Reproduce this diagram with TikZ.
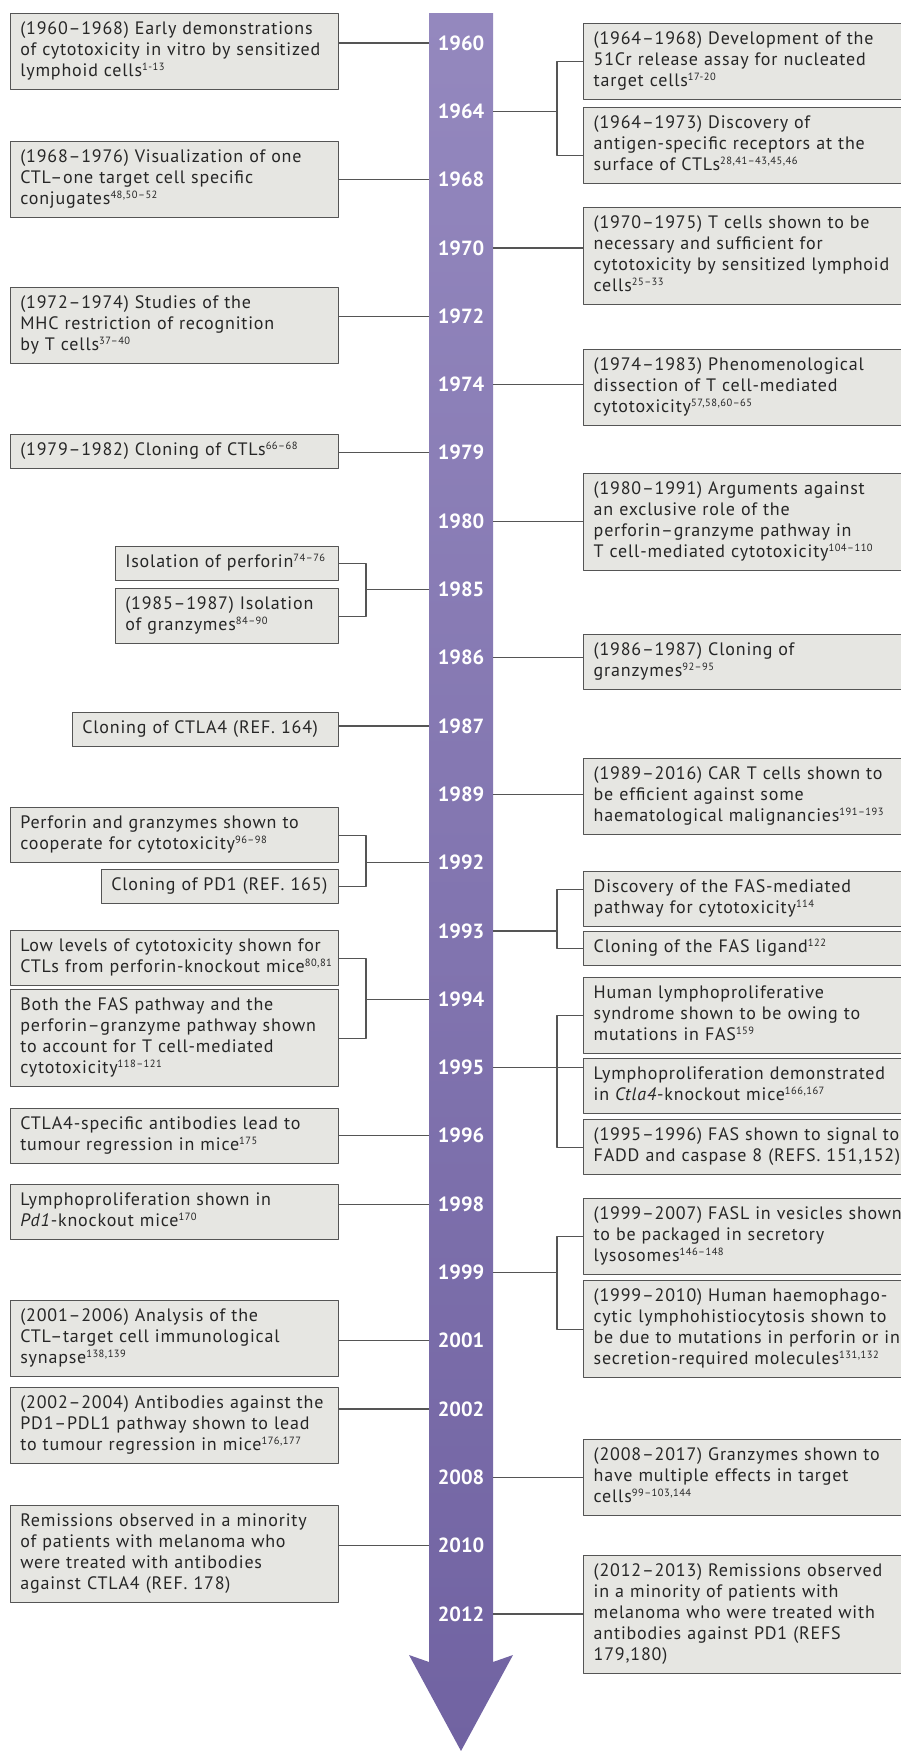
\documentclass[tikz,border=0pt]{standalone}
\usepackage{fontspec}
\setmainfont{PT Sans}[LetterSpace=4.5]
\newfontfamily\yearfont{PT Sans}
\usetikzlibrary{calc}

\definecolor{barTop}{RGB}{148,136,190}
\definecolor{barBot}{RGB}{113,99,162}
\definecolor{boxFill}{RGB}{230,230,226}
\definecolor{boxLine}{RGB}{85,85,85}

\newcommand{\refnum}[1]{\textsuperscript{\fontsize{10.5}{10}\selectfont #1}}

\begin{document}
\begin{tikzpicture}[
        x = 1pt, y = -1pt,
        line join=round,
        box/.style = {draw=boxLine, line width=1.4pt, fill=boxFill, align=left,
                      inner xsep=10pt, inner ysep=6.5pt, text=black!85,
                      font=\fontsize{18}{21}\selectfont,
                      execute at begin node={\strut\rightskip=0pt plus 1fil minus 30pt},
                      execute at end node=\strut},
        lbox/.style = {box, anchor=north east, text width=#1},
        lbox/.default = 308pt,
        rbox/.style = {box, anchor=north west, text width=320pt},
        yr/.style = {text=white, font=\yearfont\bfseries\fontsize{20.5}{20}\selectfont,
                     minimum width=64pt, inner xsep=0pt},
        link/.style = {draw=boxLine, line width=1.2pt}
    ]

    \useasboundingbox (0,0) rectangle (901,1751);

    % the time arrow
    \shade[top color=barTop, bottom color=barBot]
        (429,13) -- (493,13) -- (493,1662) -- (513,1655) -- (461,1751)
        -- (409,1655) -- (429,1662) -- cycle;

    \foreach \yr [count=\i from 0] in {1960,1964,1968,1970,1972,1974,1979,1980,
            1985,1986,1987,1989,1992,1993,1994,1995,1996,1998,1999,2001,2002,
            2008,2010,2012} {
        \node[yr] (y\yr) at (461, 43+68.3*\i) {\yr};
    }

    \coordinate (kL) at (366,0);
    \coordinate (kR) at (557,0);

    % left column
    \node[lbox] (L1) at (339,13) {(1960--1968) Early demonstrations\\ of cytotoxicity in vitro by sensitized\\ lymphoid cells\refnum{1-13}};
    \node[lbox] (L2) at (339,141) {(1968--1976) Visualization of one\\ CTL--one target cell specific\\ conjugates\refnum{48,50--52}};
    \node[lbox] (L3) at (339,287) {(1972--1974) Studies of the\\ MHC restriction of recognition\\ by T cells\refnum{37--40}};
    \node[lbox] (L4) at (339,434) {(1979--1982) Cloning of CTLs\refnum{66--68}};
    \node[lbox=203pt] (L5) at (339,546) {Isolation of perforin\refnum{74--76}};
    \node[lbox=203pt] (L6) at (339,588) {(1985--1987) Isolation\\ of granzymes\refnum{84--90}};
    \node[lbox=246pt] (L7) at (339,712) {Cloning of CTLA4 (REF. 164)};
    \node[lbox] (L8) at (339,807) {Perforin and granzymes shown to\\ cooperate for cytotoxicity\refnum{96--98}};
    \node[lbox=217pt] (L9) at (339,869) {Cloning of PD1 (REF. 165)};
    \node[lbox] (L10) at (339,930) {Low levels of cytotoxicity shown for\\ CTLs from perforin-knockout mice\refnum{80,81}};
    \node[lbox] (L11) at (339,989) {Both the FAS pathway and the\\ perforin--granzyme pathway shown\\ to account for T cell-mediated\\ cytotoxicity\refnum{118--121}};
    \node[lbox] (L12) at (339,1108) {CTLA4-specific antibodies lead to\\ tumour regression in mice\refnum{175}};
    \node[lbox] (L13) at (339,1184) {Lymphoproliferation shown in\\ \textit{Pd1}-knockout mice\refnum{170}};
    \node[lbox] (L14) at (339,1300) {(2001--2006) Analysis of the\\ CTL--target cell immunological\\ synapse\refnum{138,139}};
    \node[lbox] (L15) at (339,1387) {(2002--2004) Antibodies against the\\ PD1--PDL1 pathway shown to lead\\ to tumour regression in mice\refnum{176,177}};
    \node[lbox] (L16) at (339,1505) {Remissions observed in a minority\\ of patients with melanoma who\\ were treated with antibodies\\ against CTLA4 (REF. 178)};

    % right column
    \node[rbox] (R1) at (583,23) {(1964--1968) Development of the\\ 51Cr release assay for nucleated\\ target cells\refnum{17-20}};
    \node[rbox] (R2) at (583,107) {(1964--1973) Discovery of\\ antigen-specific receptors at the\\ surface of CTLs\refnum{28,41--43,45,46}};
    \node[rbox] (R3) at (583,207) {(1970--1975) T cells shown to be\\ necessary and sufficient for\\ cytotoxicity by sensitized lymphoid\\ cells\refnum{25--33}};
    \node[rbox] (R4) at (583,349) {(1974--1983) Phenomenological\\ dissection of T cell-mediated\\ cytotoxicity\refnum{57,58,60--65}};
    \node[rbox] (R5) at (583,473) {(1980--1991) Arguments against\\ an exclusive role of the\\ perforin--granzyme pathway in\\ T cell-mediated cytotoxicity\refnum{104--110}};
    \node[rbox] (R6) at (583,634) {(1986--1987) Cloning of\\ granzymes\refnum{92--95}};
    \node[rbox] (R7) at (583,758) {(1989--2016) CAR T cells shown to\\ be efficient against some\\ haematological malignancies\refnum{191--193}};
    \node[rbox] (R8) at (583,871) {Discovery of the FAS-mediated\\ pathway for cytotoxicity\refnum{114}};
    \node[rbox] (R9) at (583,931) {Cloning of the FAS ligand\refnum{122}};
    \node[rbox] (R10) at (583,977) {Human lymphoproliferative\\ syndrome shown to be owing to\\ mutations in FAS\refnum{159}};
    \node[rbox] (R11) at (583,1058) {Lymphoproliferation demonstrated\\ in \textit{Ctla4}-knockout mice\refnum{166,167}};
    \node[rbox] (R12) at (583,1119) {(1995--1996) FAS shown to signal to\\ FADD and caspase 8 (REFS. 151,152)};
    \node[rbox] (R13) at (583,1198) {(1999--2007) FASL in vesicles shown\\ to be packaged in secretory\\ lysosomes\refnum{146--148}};
    \node[rbox] (R14) at (583,1280) {(1999--2010) Human haemophago-\\ cytic lymphohistiocytosis shown to\\ be due to mutations in perforin or in\\ secretion-required molecules\refnum{131,132}};
    \node[rbox] (R15) at (583,1439) {(2008--2017) Granzymes shown to\\ have multiple effects in target\\ cells\refnum{99--103,144}};
    \node[rbox] (R16) at (583,1555) {(2012--2013) Remissions observed\\ in a minority of patients with\\ melanoma who were treated with\\ antibodies against PD1 (REFS\\ 179,180)};

    % single links
    \foreach \b/\y in {L1/1960, L2/1968, L3/1972, L4/1979, L7/1987, L12/1996,
            L13/1998, L14/2001, L15/2002, L16/2010} {
        \draw[link] (\b.east |- y\y.west) -- (y\y.west);
    }
    \foreach \b/\y in {R3/1970, R4/1974, R5/1980, R6/1986, R7/1989, R11/1995,
            R15/2008, R16/2012} {
        \draw[link] (y\y.east) -- (\b.west |- y\y.east);
    }

    % brackets
    \draw[link] (L5.east) -| (kL |- L6.east) -- (L6.east);
    \draw[link] (y1985.west) -- (kL |- y1985.west);
    \draw[link] (L8.east) -| (kL |- L9.east) -- (L9.east);
    \draw[link] (y1992.west) -- (kL |- y1992.west);
    \draw[link] (L10.east) -| (kL |- L11.east) -- (L11.east);
    \draw[link] (y1994.west) -- (kL |- y1994.west);

    \coordinate (r2) at ([yshift=-9.5pt]R2.west);
    \draw[link] (R1.west) -| (kR |- r2) -- (r2);
    \draw[link] (y1964.east) -- (kR |- y1964.east);
    \coordinate (r8) at ([yshift=10pt]R8.west);
    \draw[link] (r8) -| (kR |- R9.west) -- (R9.west);
    \draw[link] (y1993.east) -- (kR |- y1993.east);
    \draw[link] (R10.west) -| (kR |- R12.west) -- (R12.west);
    \draw[link] (R13.west) -| (kR |- R14.west) -- (R14.west);
    \draw[link] (y1999.east) -- (kR |- y1999.east);

\end{tikzpicture}
\end{document}
